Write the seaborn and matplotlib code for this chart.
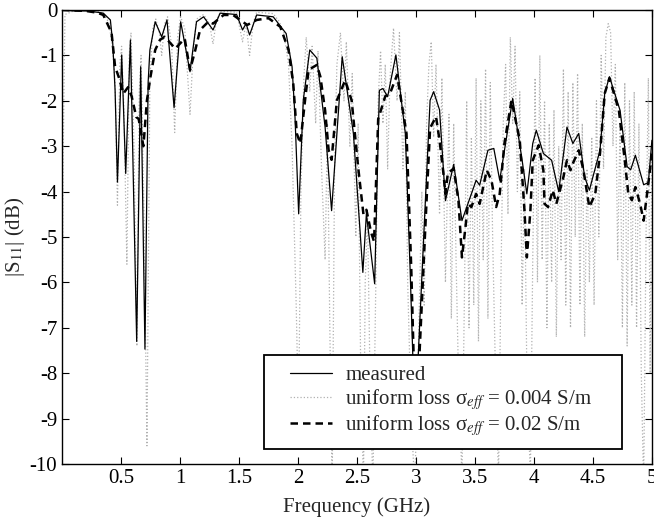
import matplotlib
matplotlib.use("Agg")
import matplotlib.pyplot as plt
from matplotlib.patches import Rectangle
import seaborn as sns

# measured |S11| (dB)
freq_meas = [0.0, 0.1, 0.2, 0.3, 0.35, 0.41, 0.43, 0.44, 0.45, 0.47, 0.506, 0.54, 0.58, 0.633,
             0.667, 0.703, 0.73, 0.745, 0.79, 0.845, 0.89, 0.95, 1.006, 1.085, 1.14, 1.2, 1.28,
             1.34, 1.48, 1.53, 1.56, 1.59, 1.65, 1.79, 1.9, 1.95, 1.975, 2.006, 2.045, 2.1, 2.16,
             2.23, 2.285, 2.375, 2.47, 2.55, 2.58, 2.65, 2.69, 2.72, 2.76, 2.83, 2.91, 2.95, 2.99,
             3.02, 3.08, 3.12, 3.15, 3.2, 3.25, 3.32, 3.39, 3.47, 3.51, 3.54, 3.61, 3.66, 3.71,
             3.82, 3.9, 3.94, 3.99, 4.02, 4.08, 4.15, 4.21, 4.28, 4.33, 4.38, 4.43, 4.47, 4.56,
             4.6, 4.64, 4.73, 4.79, 4.82, 4.86, 4.93, 4.97, 5.0]
s11_meas = [0.0, -0.02, -0.02, -0.05, -0.07, -0.22, -0.73, -1.25, -1.77, -3.79, -0.99, -3.6, -0.66, -7.3,
            -1.25, -7.47, -1.6, -0.88, -0.26, -0.59, -0.22, -2.15, -0.26, -1.36, -0.26, -0.15, -0.44,
            -0.07, -0.1, -0.44, -0.3, -0.55, -0.11, -0.15, -0.52, -1.25, -2.36, -4.49, -1.99, -0.88, -1.06,
            -2.58, -4.42, -1.03, -2.72, -5.78, -4.49, -6.03, -1.77, -1.73, -1.91, -0.99, -2.72, -5.67, -9.0,
            -7.58, -4.2, -1.99, -1.8, -2.2, -4.2, -3.4, -4.64, -4.05, -3.75, -3.86, -3.09, -3.05, -3.75,
            -1.95, -3.31, -4.05, -2.94, -2.65, -3.16, -3.31, -4.0, -2.58, -2.94, -2.72, -3.68, -3.97, -3.09,
            -1.84, -1.47, -2.21, -3.45, -3.52, -3.2, -3.85, -3.8, -2.87]

# uniform loss, sigma_eff = 0.02 S/m
freq_d02 = [0.0, 0.1, 0.2, 0.3, 0.35, 0.42, 0.45, 0.48, 0.52, 0.56, 0.59, 0.63, 0.65, 0.69, 0.72,
            0.75, 0.79, 0.83, 0.87, 0.96, 1.04, 1.085, 1.13, 1.17, 1.24, 1.28, 1.37, 1.45, 1.51, 1.57,
            1.65, 1.75, 1.85, 1.92, 1.96, 1.99, 2.02, 2.06, 2.09, 2.16, 2.19, 2.23, 2.26, 2.285, 2.33,
            2.4, 2.455, 2.51, 2.555, 2.58, 2.62, 2.645, 2.68, 2.74, 2.78, 2.84, 2.92, 2.96, 3.0, 3.03,
            3.09, 3.12, 3.17, 3.2, 3.23, 3.25, 3.27, 3.32, 3.36, 3.39, 3.42, 3.44, 3.47, 3.51, 3.54,
            3.57, 3.6, 3.64, 3.68, 3.71, 3.75, 3.81, 3.88, 3.92, 3.94, 3.97, 3.99, 4.04, 4.08, 4.09,
            4.12, 4.16, 4.19, 4.25, 4.28, 4.31, 4.33, 4.38, 4.42, 4.46, 4.47, 4.52, 4.56, 4.6, 4.64,
            4.72, 4.77, 4.8, 4.83, 4.86, 4.9, 4.93, 4.97, 5.0]
s11_d02 = [0.0, -0.01, -0.02, -0.06, -0.11, -0.5, -1.25, -1.47, -1.84, -1.7, -1.9, -2.36, -2.4, -3.0, -1.99,
           -1.47, -0.88, -0.66, -0.59, -0.85, -0.63, -1.32, -0.88, -0.44, -0.26, -0.3, -0.11, -0.11, -0.22, -0.33,
           -0.22, -0.18, -0.37, -0.88, -1.62, -2.72, -2.94, -1.99, -1.32, -1.21, -1.47, -2.21, -3.09, -3.3, -1.99,
           -1.55, -1.99, -3.46, -4.5, -4.4, -4.9, -5.1, -2.4, -1.9, -1.84, -1.43, -2.72, -5.67, -9.5, -7.58,
           -4.2, -2.6, -2.35, -2.87, -3.53, -4.05, -3.6, -3.49, -4.19, -5.45, -4.78, -4.27, -4.34, -4.05, -4.27,
           -3.9, -3.53, -3.75, -4.34, -4.05, -2.94, -1.99, -2.87, -4.42, -5.45, -4.42, -3.31, -2.98, -3.53, -4.27,
           -4.34, -3.97, -4.27, -3.68, -3.31, -3.53, -3.38, -3.09, -3.53, -4.19, -4.34, -4.05, -3.16, -1.84, -1.5,
           -2.21, -3.31, -4.05, -4.19, -3.9, -4.27, -4.64, -3.82, -3.16]

# uniform loss, sigma_eff = 0.004 S/m
freq_d004 = [0.0, 0.01, 0.025, 0.1, 0.2, 0.3, 0.36, 0.4, 0.43, 0.45, 0.47, 0.49, 0.505, 0.525, 0.55,
             0.57, 0.585, 0.61, 0.635, 0.655, 0.67, 0.695, 0.72, 0.745, 0.77, 0.795, 0.825, 0.845, 0.87,
             0.895, 0.93, 0.955, 0.98, 1.005, 1.04, 1.085, 1.11, 1.14, 1.2, 1.25, 1.28, 1.31, 1.35, 1.48,
             1.53, 1.56, 1.59, 1.62, 1.65, 1.79, 1.84, 1.88, 1.92, 1.95, 1.985, 2.005, 2.025, 2.05, 2.07,
             2.1, 2.12, 2.15, 2.17, 2.2, 2.23, 2.25, 2.27, 2.29, 2.31, 2.33, 2.36, 2.39, 2.41, 2.44, 2.46,
             2.49, 2.51, 2.53, 2.555, 2.57, 2.59, 2.61, 2.635, 2.66, 2.68, 2.7, 2.72, 2.74, 2.76, 2.78,
             2.81, 2.84, 2.86, 2.89, 2.91, 2.93, 2.96, 2.99, 3.02, 3.05, 3.07, 3.09, 3.11, 3.13, 3.15,
             3.17, 3.2, 3.22, 3.25, 3.28, 3.3, 3.32, 3.34, 3.36, 3.39, 3.41, 3.43, 3.45, 3.47, 3.49,
             3.51, 3.53, 3.55, 3.57, 3.59, 3.61, 3.63, 3.65, 3.67, 3.7, 3.72, 3.74, 3.76, 3.78, 3.8,
             3.82, 3.84, 3.86, 3.88, 3.9, 3.92, 3.94, 3.97, 3.99, 4.01, 4.03, 4.05, 4.07, 4.09, 4.11,
             4.13, 4.15, 4.17, 4.19, 4.21, 4.23, 4.25, 4.27, 4.29, 4.31, 4.33, 4.35, 4.37, 4.39, 4.41,
             4.43, 4.45, 4.47, 4.49, 4.51, 4.53, 4.55, 4.57, 4.59, 4.61, 4.63, 4.65, 4.67, 4.69, 4.71,
             4.73, 4.75, 4.77, 4.79, 4.81, 4.83, 4.85, 4.87, 4.89, 4.91, 4.93, 4.95, 4.97, 4.985, 5.0]
s11_d004 = [-9.5, -3.2, -0.1, -0.02, 0.0, -0.03, -0.1, -0.3, -0.9, -1.6, -4.3, -1.2, -0.8, -2.2, -5.6,
            -1.0, -0.5, -3.0, -7.4, -1.8, -1.0, -4.5, -9.6, -1.5, -0.4, -0.2, -0.5, -1.0, -0.3,
            -0.15, -0.8, -2.7, -0.6, -0.15, -0.4, -2.3, -1.0, -0.2, -0.1, -0.3, -0.75, -0.2, -0.03, -0.05,
            -0.7, -0.3, -1.0, -0.3, -0.05, -0.08, -0.25, -0.5, -1.2, -3.0, -6.5, -9.0, -4.0, -1.5, -0.6,
            -1.8, -0.8, -2.5, -0.9, -3.5, -5.5, -2.5, -7.0, -10.5, -3.5, -1.2, -0.5, -2.0, -0.7, -3.0, -1.4,
            -5.0, -2.5, -7.5, -10.5, -6.0, -4.5, -8.0, -10.5, -6.0, -2.0, -0.9, -2.5, -1.2, -3.5, -1.5,
            -0.4, -2.0, -0.5, -3.5, -1.8, -6.0, -9.0, -10.5, -7.5, -4.0, -6.5, -2.5, -1.2, -0.7, -2.8,
            -1.2, -4.5, -1.5, -6.0, -2.3, -6.8, -2.5, -5.5, -8.0, -10.3, -6.5, -2.0, -7.0, -2.8, -6.5,
            -1.5, -7.3, -2.0, -5.5, -1.3, -6.8, -1.6, -5.0, -7.5, -10.3, -6.0, -2.5, -1.2, -4.5, -0.6,
            -2.5, -0.8, -4.0, -1.8, -6.5, -3.5, -8.0, -10.3, -5.5, -1.5, -6.0, -1.0, -5.5, -2.0, -7.0,
            -2.5, -6.0, -2.2, -7.2, -3.0, -5.5, -1.3, -6.5, -1.8, -7.0, -1.6, -5.0, -1.4, -6.5, -2.5,
            -7.2, -3.5, -6.0, -2.8, -6.5, -2.0, -5.0, -1.0, -3.5, -0.6, -0.3, -0.5, -3.0, -1.2, -5.5,
            -2.5, -7.0, -1.6, -7.4, -2.0, -6.5, -1.8, -7.0, -2.5, -8.0, -10.5, -5.0, -1.5, -8.0, -3.0]

xticks = [0.5, 1, 1.5, 2, 2.5, 3, 3.5, 4, 4.5, 5]
xtick_labels = ["0.5", "1", "1.5", "2", "2.5", "3", "3.5", "4", "4.5", "5"]
yticks = [0, -1, -2, -3, -4, -5, -6, -7, -8, -9, -10]
ytick_labels = ["0", "-1", "-2", "-3", "-4", "-5", "-6", "-7", "-8", "-9", "-10"]

sns.set_theme(style="ticks")
plt.rcParams['font.family'] = ['Liberation Serif', 'DejaVu Serif']
plt.rcParams['mathtext.fontset'] = 'stix'
plt.rcParams['axes.unicode_minus'] = False

fig = plt.figure(figsize=(6.54, 5.31), dpi=100)
ax = fig.add_axes([0.0948, 0.1262, 0.902, 0.855])

sns.lineplot(x=freq_meas, y=s11_meas, ax=ax, color='black', lw=0.9, estimator=None,
             label='measured', zorder=3)
sns.lineplot(x=freq_d004, y=s11_d004, ax=ax, color='#b0b0b0', lw=0.9, linestyle=':',
             estimator=None, label=r'uniform loss σ$_{eff}$ = 0.004 S/m', zorder=2)
sns.lineplot(x=freq_d02, y=s11_d02, ax=ax, color='black', lw=1.8, estimator=None,
             label=r'uniform loss σ$_{eff}$ = 0.02 S/m', zorder=4)
ax.lines[-1].set_dashes((3, 2))

ax.set_xlim(0, 5)
ax.set_ylim(-10, 0)
ax.set_xticks(xticks)
ax.set_xticklabels(xtick_labels)
ax.set_yticks(yticks)
ax.set_yticklabels(ytick_labels)
ax.tick_params(direction='in', top=True, right=True, length=5, width=0.8,
               labelsize=15, colors='black')
for s in ax.spines.values():
    s.set_color('black')
    s.set_linewidth(1.0)
ax.set_xlabel('Frequency (GHz)', fontsize=15, labelpad=7)
ax.set_ylabel('|S$_{11}$| (dB)', fontsize=15, labelpad=2)

# legend box drawn as a plain white rectangle, legend entries centred in it
box = Rectangle((0.342, 0.033), 0.607, 0.207, transform=ax.transAxes,
                facecolor='white', edgecolor='black', lw=1.3, zorder=9)
ax.add_patch(box)
leg = ax.legend(loc='center', bbox_to_anchor=(0.643, 0.1365), borderaxespad=0,
                fontsize=15, frameon=False, handlelength=2.0, handletextpad=0.65,
                labelspacing=0.08, borderpad=0.2)
leg.set_zorder(10)

fig.savefig("out.png", dpi=100)
